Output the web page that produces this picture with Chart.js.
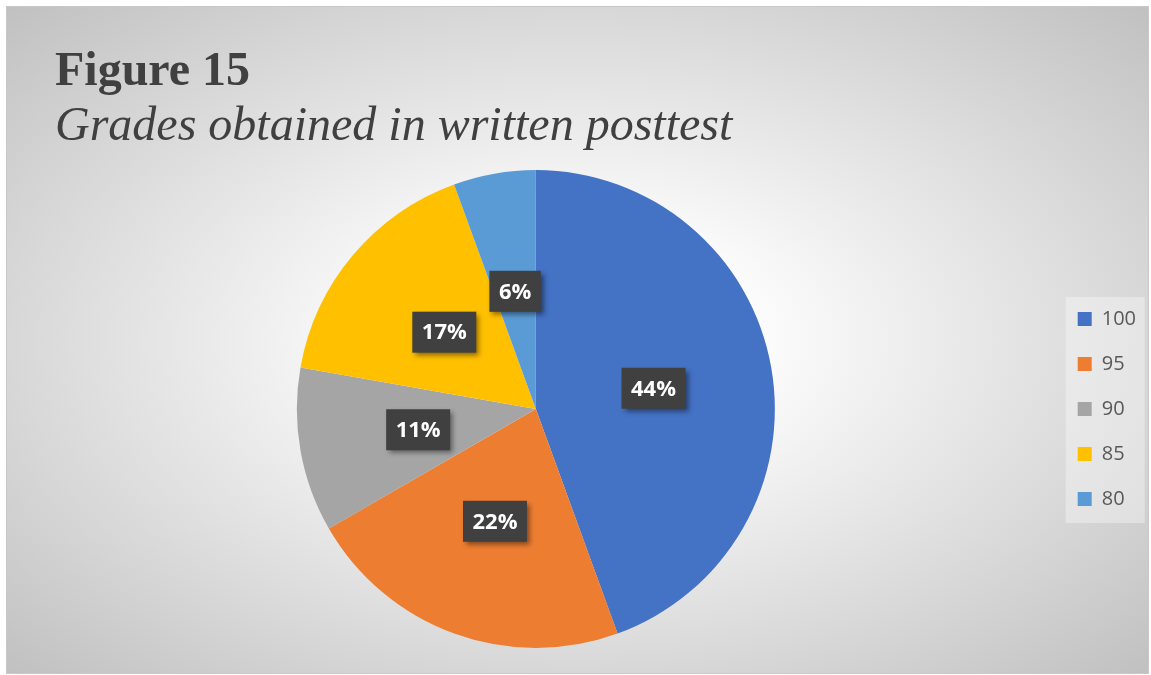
<!DOCTYPE html>
<html>
<head>
<meta charset="utf-8">
<title>Grades obtained in written posttest</title>
<script src="https://cdn.jsdelivr.net/npm/chart.js@4.4.1/dist/chart.umd.min.js"></script>
<style>
    html, body { margin: 0; padding: 0; background: #ffffff; }
    canvas { display: block; }
</style>
</head>
<body>
<canvas id="gradesChart" width="1151" height="675"></canvas>
<script>
'use strict';

const figureTitle = 'Figure 15';
const figureSubtitle = 'Grades obtained in written posttest';

// grades and how many students got each one
const grades = ['100', '95', '90', '85', '80'];
const students = [8, 4, 2, 3, 1];
const sliceColors = ['#4472C4', '#ED7D31', '#A5A5A5', '#FFC000', '#5B9BD5'];

// frame with the soft grey radial background, legend panel and heading
const backgroundPlugin = {
    id: 'figureBackground',
    beforeDraw(chart) {
        let ctx = chart.ctx;
        let x0 = 6, y0 = 6, x1 = chart.width - 2, y1 = chart.height - 1;
        let cx = (x0 + x1) / 2, cy = (y0 + y1) / 2;
        let rx = (x1 - x0) / 2, ry = (y1 - y0) / 2;

        ctx.save();
        ctx.beginPath();
        ctx.rect(x0, y0, x1 - x0, y1 - y0);
        ctx.clip();
        ctx.translate(cx, cy);
        ctx.scale(rx, ry);
        let grad = ctx.createRadialGradient(0, 0, 0, 0, 0, 1.42);
        grad.addColorStop(0, '#ffffff');
        grad.addColorStop(0.2, '#fefefe');
        grad.addColorStop(1, '#c0c0c0');
        ctx.fillStyle = grad;
        ctx.fillRect(-1, -1, 2, 2);
        ctx.restore();

        ctx.save();
        ctx.strokeStyle = '#c8c8c8';
        ctx.lineWidth = 1;
        ctx.strokeRect(x0 + 0.5, y0 + 0.5, x1 - x0 - 1, y1 - y0 - 1);

        // lighter panel behind the legend
        let lg = chart.legend;
        ctx.fillStyle = 'rgba(255,255,255,0.35)';
        ctx.fillRect(lg.left + 13, 297, 79, 226);
        ctx.restore();
    },
    afterDraw(chart) {
        let ctx = chart.ctx;
        ctx.save();
        ctx.fillStyle = '#404040';
        ctx.textAlign = 'left';
        ctx.textBaseline = 'alphabetic';
        ctx.font = 'bold 48px "Liberation Serif", "Times New Roman", serif';
        ctx.fillText(figureTitle, 55, 85);
        ctx.font = 'italic 48px "Liberation Serif", "Times New Roman", serif';
        ctx.fillText(figureSubtitle, 55, 140);
        ctx.restore();
    }
};

// dark percentage boxes in the middle of each slice
const percentLabels = {
    id: 'percentLabels',
    afterDatasetsDraw(chart) {
        let ctx = chart.ctx;
        let meta = chart.getDatasetMeta(0);
        let values = chart.data.datasets[0].data;
        let total = values.reduce((a, b) => a + b, 0);

        ctx.save();
        ctx.font = 'bold 22px "Open Sans", sans-serif';
        ctx.textAlign = 'center';
        ctx.textBaseline = 'middle';

        meta.data.forEach((arc, i) => {
            let text = Math.round(values[i] / total * 100) + '%';
            let pos = arc.tooltipPosition();
            let w = ctx.measureText(text).width + 19;
            let h = 41;

            ctx.shadowColor = 'rgba(0,0,0,0.45)';
            ctx.shadowBlur = 5;
            ctx.shadowOffsetX = 3;
            ctx.shadowOffsetY = 3;
            ctx.fillStyle = '#404040';
            ctx.fillRect(pos.x - w / 2, pos.y - h / 2, w, h);

            ctx.shadowColor = 'transparent';
            ctx.fillStyle = '#ffffff';
            ctx.fillText(text, pos.x, pos.y + 1);
        });
        ctx.restore();
    }
};

let ctx = document.getElementById('gradesChart').getContext('2d');
let gradesChart = new Chart(ctx, {
    type: 'pie',
    data: {
        labels: grades,
        datasets: [{
            data: students,
            backgroundColor: sliceColors,
            borderWidth: 0
        }]
    },
    options: {
        responsive: false,
        animation: false,
        events: [],
        layout: {
            padding: { top: 170, bottom: 27, left: 19, right: 5 }
        },
        plugins: {
            legend: {
                position: 'right',
                maxWidth: 95,
                labels: {
                    boxWidth: 14,
                    boxHeight: 14,
                    padding: 25,
                    color: '#595959',
                    font: { family: '"Open Sans", sans-serif', size: 20 }
                }
            },
            tooltip: { enabled: false }
        }
    },
    plugins: [backgroundPlugin, percentLabels]
});
</script>
</body>
</html>
